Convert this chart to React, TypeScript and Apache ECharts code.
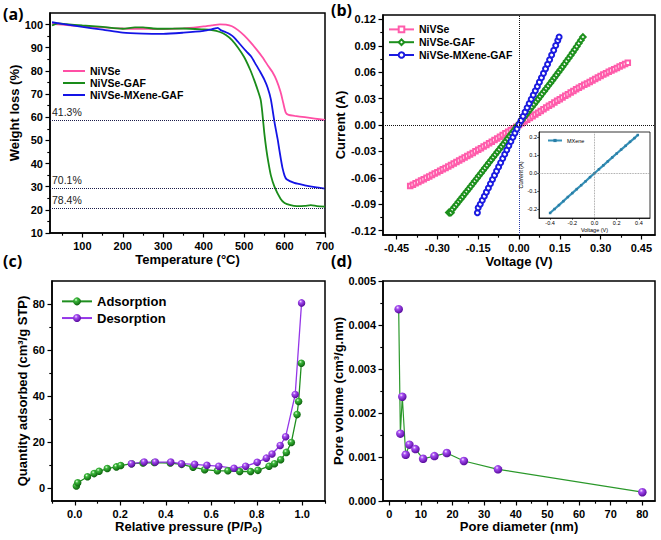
import React, { useEffect, useRef } from 'react';
import * as echarts from 'echarts';

// ---------- (a) TGA ----------
const tgaTempNiVSe = [25, 50, 75, 100, 125, 150, 175, 200, 225, 250, 275, 300, 325, 350, 375, 400, 420, 440, 455, 470, 485, 500, 515, 530, 545, 560, 570, 580, 590, 597, 603, 610, 625, 650, 675, 700];
const tgaWNiVSe = [100.3, 100.0, 99.6, 99.3, 99.0, 98.8, 98.5, 98.3, 98.2, 98.2, 98.1, 98.1, 98.2, 98.4, 98.7, 99.2, 99.7, 100.1, 100.0, 99.3, 97.6, 95.3, 92.5, 89.4, 86.0, 82.0, 79.5, 76.0, 71.0, 66.0, 62.0, 61.0, 60.6, 60.0, 59.4, 58.8];
const tgaTempGAF = [25, 40, 60, 100, 150, 200, 230, 250, 275, 300, 350, 400, 420, 440, 455, 470, 485, 500, 515, 525, 535, 541, 545, 550, 555, 560, 566, 575, 590, 600, 615, 630, 650, 665, 680, 700];
const tgaWGAF = [99.6, 100.5, 100.2, 99.6, 99.0, 98.2, 98.8, 98.8, 98.3, 98.2, 98.3, 97.9, 97.6, 96.8, 95.5, 93.3, 90.0, 86.0, 80.5, 76.0, 71.0, 67.5, 62.0, 53.0, 46.0, 40.5, 35.0, 30.0, 24.8, 23.0, 22.0, 21.6, 21.7, 22.0, 21.6, 21.4];
const tgaTempMX = [25, 50, 100, 150, 200, 250, 300, 350, 400, 425, 435, 442, 455, 465, 475, 490, 505, 517, 530, 540, 550, 558, 566, 575, 583, 587, 591, 595, 600, 605, 624, 650, 675, 700];
const tgaWMX = [101.0, 100.3, 99.0, 97.8, 96.5, 96.1, 96.0, 96.5, 97.3, 98.2, 98.6, 97.6, 96.7, 95.8, 94.5, 91.5, 88.5, 86.3, 82.5, 79.5, 76.2, 72.8, 67.8, 58.0, 50.4, 46.0, 41.8, 38.0, 34.8, 33.2, 31.6, 30.6, 29.8, 29.2];
const tgaRefLevels = [58.8, 29.5, 20.9];
const tgaRefLabels = ['41.3%', '70.1%', '78.4%'];
const tgaXTicks = [100, 200, 300, 400, 500, 600, 700];
const tgaXMinor = [50, 150, 250, 350, 450, 550, 650];
const tgaYTicks = [10, 20, 30, 40, 50, 60, 70, 80, 90, 100];
const tgaYMinor = [15, 25, 35, 45, 55, 65, 75, 85, 95];

// ---------- (b) I-V ----------
const ivVNiVSe = [-0.40, -0.39, -0.38, -0.37, -0.36, -0.35, -0.34, -0.33, -0.32, -0.31, -0.30, -0.29, -0.28, -0.27, -0.26, -0.25, -0.24, -0.23, -0.22, -0.21, -0.20, -0.19, -0.18, -0.17, -0.16, -0.15, -0.14, -0.13, -0.12, -0.11, -0.10, -0.09, -0.08, -0.07, -0.06, -0.05, -0.04, -0.03, -0.02, -0.01, 0, 0.01, 0.02, 0.03, 0.04, 0.05, 0.06, 0.07, 0.08, 0.09, 0.10, 0.11, 0.12, 0.13, 0.14, 0.15, 0.16, 0.17, 0.18, 0.19, 0.20, 0.21, 0.22, 0.23, 0.24, 0.25, 0.26, 0.27, 0.28, 0.29, 0.30, 0.31, 0.32, 0.33, 0.34, 0.35, 0.36, 0.37, 0.38, 0.39, 0.40];
const ivINiVSe = [-0.0693, -0.0678, -0.0662, -0.0647, -0.0631, -0.0616, -0.0600, -0.0584, -0.0568, -0.0552, -0.0536, -0.0520, -0.0504, -0.0488, -0.0471, -0.0455, -0.0438, -0.0421, -0.0404, -0.0387, -0.0370, -0.0353, -0.0335, -0.0317, -0.0299, -0.0281, -0.0263, -0.0245, -0.0226, -0.0208, -0.0189, -0.0171, -0.0152, -0.0133, -0.0114, -0.0095, -0.0076, -0.0057, -0.0038, -0.0019, 0.0, 0.0020, 0.0040, 0.0060, 0.0080, 0.0100, 0.0120, 0.0140, 0.0159, 0.0179, 0.0198, 0.0218, 0.0237, 0.0256, 0.0275, 0.0294, 0.0313, 0.0332, 0.0350, 0.0369, 0.0387, 0.0405, 0.0422, 0.0439, 0.0456, 0.0473, 0.0490, 0.0507, 0.0524, 0.0541, 0.0557, 0.0573, 0.0588, 0.0604, 0.0619, 0.0634, 0.0649, 0.0664, 0.0679, 0.0694, 0.0708];
const ivVGAF = [-0.258, -0.254, -0.250, -0.245, -0.2375, -0.230, -0.2225, -0.215, -0.2075, -0.200, -0.1925, -0.185, -0.1775, -0.170, -0.1625, -0.155, -0.1475, -0.140, -0.1325, -0.125, -0.1175, -0.110, -0.1025, -0.095, -0.0875, -0.080, -0.0725, -0.065, -0.0575, -0.050, -0.0425, -0.035, -0.0275, -0.020, -0.0125, -0.005, 0.0025, 0.010, 0.0175, 0.025, 0.0325, 0.040, 0.0475, 0.055, 0.0625, 0.070, 0.0775, 0.085, 0.0925, 0.100, 0.1075, 0.115, 0.1225, 0.130, 0.1375, 0.145, 0.1525, 0.160, 0.1675, 0.175, 0.1825, 0.190, 0.1975, 0.205, 0.2125, 0.220, 0.2275, 0.235];
const ivIGAF = [-0.0994, -0.0998, -0.0996, -0.0960, -0.0931, -0.0902, -0.0873, -0.0844, -0.0815, -0.0785, -0.0756, -0.0726, -0.0697, -0.0667, -0.0637, -0.0607, -0.0577, -0.0547, -0.0517, -0.0487, -0.0457, -0.0427, -0.0397, -0.0367, -0.0337, -0.0307, -0.0277, -0.0247, -0.0217, -0.0187, -0.0157, -0.0127, -0.0097, -0.0067, -0.0037, -0.0006, 0.0024, 0.0054, 0.0084, 0.0114, 0.0144, 0.0174, 0.0204, 0.0234, 0.0264, 0.0294, 0.0324, 0.0354, 0.0384, 0.0414, 0.0445, 0.0475, 0.0506, 0.0537, 0.0568, 0.0599, 0.0630, 0.0662, 0.0694, 0.0726, 0.0758, 0.0791, 0.0824, 0.0858, 0.0893, 0.0928, 0.0964, 0.1000];
const ivVMX = [-0.153, -0.150, -0.1425, -0.135, -0.1275, -0.120, -0.1125, -0.105, -0.0975, -0.090, -0.0825, -0.075, -0.0675, -0.060, -0.0525, -0.045, -0.0375, -0.030, -0.0225, -0.015, -0.0075, 0, 0.0075, 0.015, 0.0225, 0.030, 0.0375, 0.045, 0.0525, 0.060, 0.0675, 0.075, 0.0825, 0.090, 0.0975, 0.105, 0.1125, 0.120, 0.1275, 0.135, 0.1425, 0.1475];
const ivIMX = [-0.0997, -0.0940, -0.0900, -0.0856, -0.0810, -0.0763, -0.0716, -0.0668, -0.0620, -0.0572, -0.0524, -0.0476, -0.0428, -0.0380, -0.0332, -0.0284, -0.0236, -0.0188, -0.0140, -0.0092, -0.0044, 0.0004, 0.0052, 0.0100, 0.0148, 0.0196, 0.0244, 0.0292, 0.0340, 0.0389, 0.0438, 0.0487, 0.0537, 0.0587, 0.0638, 0.0690, 0.0742, 0.0795, 0.0849, 0.0904, 0.0960, 0.1000];
const ivXTicks = [-0.45, -0.3, -0.15, 0, 0.15, 0.3, 0.45];
const ivXMinor = [-0.375, -0.225, -0.075, 0.075, 0.225, 0.375];
const ivYTicks = [-0.12, -0.09, -0.06, -0.03, 0, 0.03, 0.06, 0.09, 0.12];
const ivYMinor = [-0.105, -0.075, -0.045, -0.015, 0.015, 0.045, 0.075, 0.105];

// inset MXene
const mxV = [-0.40, -0.36, -0.32, -0.28, -0.24, -0.20, -0.16, -0.12, -0.08, -0.04, 0.00, 0.04, 0.08, 0.12, 0.16, 0.20, 0.24, 0.28, 0.32, 0.36, 0.39];
const mxI = [-0.222, -0.200, -0.178, -0.156, -0.133, -0.111, -0.089, -0.067, -0.045, -0.022, 0.000, 0.022, 0.044, 0.066, 0.088, 0.110, 0.132, 0.153, 0.175, 0.196, 0.213];
const mxXTicks = [-0.4, -0.2, 0, 0.2, 0.4];
const mxYTicks = [-0.2, -0.1, 0, 0.1, 0.2];

// ---------- (c) BET isotherm ----------
const adsP = [0.007, 0.013, 0.056, 0.085, 0.107, 0.143, 0.183, 0.202, 0.25, 0.30, 0.35, 0.42, 0.47, 0.52, 0.571, 0.627, 0.673, 0.725, 0.773, 0.805, 0.854, 0.878, 0.905, 0.93, 0.952, 0.977, 0.984, 0.996];
const adsQ = [1.0, 2.4, 5.0, 6.4, 7.4, 8.6, 9.3, 9.9, 10.7, 11.0, 11.2, 11.0, 10.4, 9.2, 8.1, 7.6, 7.6, 7.3, 7.3, 7.8, 9.6, 10.7, 12.4, 15.6, 19.9, 32.0, 37.7, 54.3];
const desP = [0.997, 0.969, 0.927, 0.903, 0.867, 0.842, 0.802, 0.751, 0.70, 0.633, 0.581, 0.527, 0.469, 0.422, 0.354, 0.305, 0.249];
const desQ = [80.5, 40.7, 22.4, 18.6, 14.9, 13.1, 11.3, 9.6, 8.7, 9.6, 10.0, 10.4, 10.7, 11.4, 11.4, 11.4, 10.7];
const betXTicks = [0, 0.2, 0.4, 0.6, 0.8, 1.0];
const betXMinor = [-0.1, 0.1, 0.3, 0.5, 0.7, 0.9, 1.1];
const betYTicks = [0, 20, 40, 60, 80];
const betYMinor = [10, 30, 50, 70];

// ---------- (d) pore size distribution ----------
const poreD = [2.96, 3.49, 4.1, 5.18, 6.34, 8.25, 10.68, 14.27, 18.18, 23.57, 34.36, 80.0];
const poreV = [0.00436, 0.00153, 0.00237, 0.00105, 0.00128, 0.00118, 0.00096, 0.00102, 0.00109, 0.00091, 0.00072, 0.00020];
const psdXTicks = [0, 10, 20, 30, 40, 50, 60, 70, 80];
const psdXMinor = [5, 15, 25, 35, 45, 55, 65, 75];
const psdYTicks = [0, 0.001, 0.002, 0.003, 0.004, 0.005];
const psdYMinor = [0.0005, 0.0015, 0.0025, 0.0035, 0.0045];

const FONT = '"Liberation Sans", Arial, sans-serif';
const zip = (a: number[], b: number[]) => a.map((v, i) => [v, b[i]]);

type AxOpt = {
  grid: number; min: number; max: number; majors: number[]; minors?: number[]; dec: number;
  name: string; nameGap: number; fs?: number; nfs?: number; tickLen?: number; margin?: number;
  lineW?: number; namePad?: number[]; bold?: boolean;
};

function makeAxes(dim: 'x' | 'y', o: AxOpt) {
  const fs = o.fs ?? 11;
  const nfs = o.nfs ?? 13;
  const tl = o.tickLen ?? 4.5;
  const lw = o.lineW ?? 1.5;
  const weight = o.bold === false ? 'normal' : 'bold';
  const pos = dim === 'x' ? 'bottom' : 'left';
  const main: any = {
    type: 'value', gridIndex: o.grid, min: o.min, max: o.max, position: pos,
    name: o.name, nameLocation: 'middle', nameGap: o.nameGap,
    nameTextStyle: { fontFamily: FONT, fontWeight: weight, fontSize: nfs, color: '#000', padding: o.namePad ?? 0 },
    axisLine: { show: true, onZero: false, lineStyle: { color: '#000', width: lw } },
    axisTick: { show: true, inside: false, length: tl, customValues: o.majors, lineStyle: { color: '#000', width: lw * 0.8 } },
    axisLabel: {
      show: true, customValues: o.majors, formatter: (v: number) => Number(v).toFixed(o.dec),
      fontFamily: FONT, fontWeight: weight, fontSize: fs, color: '#000', margin: o.margin ?? 7,
    },
    splitLine: { show: false },
  };
  const out = [main];
  if (o.minors) {
    out.push({
      type: 'value', gridIndex: o.grid, min: o.min, max: o.max, position: pos,
      axisLine: { show: false, onZero: false },
      axisTick: { show: true, inside: false, length: tl * 0.6, customValues: o.minors, lineStyle: { color: '#000', width: lw * 0.75 } },
      axisLabel: { show: false },
      splitLine: { show: false },
    });
  }
  return out;
}

function ball(hi: string, mid: string, dark: string) {
  return new echarts.graphic.RadialGradient(0.38, 0.32, 0.7, [
    { offset: 0, color: hi },
    { offset: 0.28, color: mid },
    { offset: 1, color: dark },
  ]);
}

const PINK_A = '#ff4fa5';
const GREEN_A = '#1a8c1a';
const BLUE_A = '#1414e6';
const PINK_B = '#ff5cab';
const GREEN_B = '#1d901d';
const BLUE_B = '#1b1be0';
const TEAL = '#3591b8';

export default function App() {
  const ref = useRef<HTMLDivElement>(null);
  useEffect(() => {
    if (!ref.current) return;
    const chart = echarts.init(ref.current, undefined, { renderer: 'svg' });

    const xAxis = [
      ...makeAxes('x', { grid: 0, min: 20, max: 700, majors: tgaXTicks, minors: tgaXMinor, dec: 0, name: 'Temperature (°C)', nameGap: 20 }),
      ...makeAxes('x', { grid: 1, min: -0.5, max: 0.5, majors: ivXTicks, minors: ivXMinor, dec: 2, name: 'Voltage (V)', nameGap: 20 }),
      ...makeAxes('x', { grid: 2, min: -0.1, max: 1.1, majors: betXTicks, minors: betXMinor, dec: 1, name: 'Relative pressure (P/Pₒ)', nameGap: 19 }),
      ...makeAxes('x', { grid: 3, min: -2, max: 84, majors: psdXTicks, minors: psdXMinor, dec: 0, name: 'Pore diameter (nm)', nameGap: 19 }),
      ...makeAxes('x', { grid: 4, min: -0.5, max: 0.5, majors: mxXTicks, dec: 1, name: 'Voltage (V)', nameGap: 6, fs: 5.5, nfs: 5.5, tickLen: 1.8, margin: 2, lineW: 0.8, bold: false }),
    ];
    const yAxis = [
      ...makeAxes('y', { grid: 0, min: 10, max: 105, majors: tgaYTicks, minors: tgaYMinor, dec: 0, name: 'Weight loss (%)', nameGap: 22, namePad: [0, 0, 0, 20] }),
      ...makeAxes('y', { grid: 1, min: -0.125, max: 0.125, majors: ivYTicks, minors: ivYMinor, dec: 2, name: 'Current (A)', nameGap: 35 }),
      ...makeAxes('y', { grid: 2, min: -5.5, max: 90, majors: betYTicks, minors: betYMinor, dec: 0, name: 'Quantity adsorbed (cm³/g STP)', nameGap: 23 }),
      ...makeAxes('y', { grid: 3, min: 0, max: 0.005, majors: psdYTicks, minors: psdYMinor, dec: 3, name: 'Pore volume (cm³/g.nm)', nameGap: 37 }),
      ...makeAxes('y', { grid: 4, min: -0.25, max: 0.23, majors: mxYTicks, dec: 1, name: 'Current (A)', nameGap: 15, fs: 5.5, nfs: 5.5, tickLen: 1.8, margin: 2, lineW: 0.8, bold: false }),
    ];

    const greenBall = ball('#e6ffe0', '#3cb83c', '#0a5f0a');
    const purpleBall = ball('#f6e6ff', '#a64cf2', '#55089a');

    const dotted = (color: string) => ({ type: 'dotted' as const, color, width: 1 });

    const series: any[] = [
      // (a)
      {
        name: 'a:NiVSe', type: 'line', xAxisIndex: 0, yAxisIndex: 0, data: zip(tgaTempNiVSe, tgaWNiVSe),
        symbol: 'none', smooth: 0.25, lineStyle: { color: PINK_A, width: 1.8 }, itemStyle: { color: PINK_A },
        markLine: {
          silent: true, symbol: ['none', 'none'], animation: false,
          lineStyle: dotted('#1c1c4a'),
          label: { show: true, position: 'insideStartTop', formatter: '{b}', fontFamily: FONT, fontSize: 10.5, color: '#222', distance: 2 },
          data: tgaRefLevels.map((y, i) => ({ yAxis: y, name: tgaRefLabels[i] })),
        },
        z: 3,
      },
      {
        name: 'a:NiVSe-GAF', type: 'line', xAxisIndex: 0, yAxisIndex: 0, data: zip(tgaTempGAF, tgaWGAF),
        symbol: 'none', smooth: 0.25, lineStyle: { color: GREEN_A, width: 1.8 }, itemStyle: { color: GREEN_A }, z: 3,
      },
      {
        name: 'a:NiVSe-MXene-GAF', type: 'line', xAxisIndex: 0, yAxisIndex: 0, data: zip(tgaTempMX, tgaWMX),
        symbol: 'none', smooth: 0.25, lineStyle: { color: BLUE_A, width: 1.8 }, itemStyle: { color: BLUE_A }, z: 4,
      },
      // (b)
      {
        name: 'b:NiVSe', type: 'line', xAxisIndex: 2, yAxisIndex: 2, data: zip(ivVNiVSe, ivINiVSe),
        symbol: 'emptyRect', symbolSize: 4.5, lineStyle: { color: PINK_B, width: 1 }, itemStyle: { color: PINK_B, borderWidth: 1.1 },
        markLine: {
          silent: true, symbol: ['none', 'none'], animation: false,
          label: { show: false },
          data: [
            [{ coord: [0, 0], lineStyle: dotted('#111') }, { coord: [0, 0.125] }],
            [{ coord: [0, -0.125], lineStyle: dotted('#2a3aa8') }, { coord: [0, 0] }],
            { yAxis: 0, lineStyle: dotted('#111') },
          ],
        },
      },
      {
        name: 'b:NiVSe-GAF', type: 'line', xAxisIndex: 2, yAxisIndex: 2, data: zip(ivVGAF, ivIGAF),
        symbol: 'emptyDiamond', symbolSize: 5.5, lineStyle: { color: GREEN_B, width: 1 }, itemStyle: { color: GREEN_B, borderWidth: 1.1 },
      },
      {
        name: 'b:NiVSe-MXene-GAF', type: 'line', xAxisIndex: 2, yAxisIndex: 2, data: zip(ivVMX, ivIMX),
        symbol: 'emptyCircle', symbolSize: 5, lineStyle: { color: BLUE_B, width: 1 }, itemStyle: { color: BLUE_B, borderWidth: 1.1 },
      },
      // inset
      {
        name: 'i:MXene', type: 'line', xAxisIndex: 8, yAxisIndex: 8, data: zip(mxV, mxI),
        symbol: 'rect', symbolSize: 2.5, lineStyle: { color: TEAL, width: 2.2 }, itemStyle: { color: '#2a7ea6' },
        markLine: {
          silent: true, symbol: ['none', 'none'], animation: false, label: { show: false },
          lineStyle: { type: 'dotted', color: '#888', width: 0.8 },
          data: [{ xAxis: 0 }, { yAxis: 0 }],
        },
      },
      // (c)
      {
        name: 'c:Adsorption', type: 'line', xAxisIndex: 4, yAxisIndex: 4, data: zip(adsP, adsQ),
        symbol: 'circle', symbolSize: 7.5, lineStyle: { color: '#1f8f1f', width: 1.3 }, itemStyle: { color: greenBall },
      },
      {
        name: 'c:Desorption', type: 'line', xAxisIndex: 4, yAxisIndex: 4, data: zip(desP, desQ),
        symbol: 'circle', symbolSize: 7.5, lineStyle: { color: '#9436e8', width: 1.3 }, itemStyle: { color: purpleBall },
      },
      // (d)
      {
        name: 'd:PSD', type: 'line', xAxisIndex: 6, yAxisIndex: 6, data: zip(poreD, poreV),
        symbol: 'circle', symbolSize: 8.5, lineStyle: { color: '#2a982a', width: 1.2 }, itemStyle: { color: purpleBall },
      },
    ];

    const legendText = (fs: number, lh: number) => ({ fontFamily: FONT, fontWeight: 'bold' as const, fontSize: fs, color: '#000', lineHeight: lh });
    const strip = (n: string) => n.slice(2);

    const option: any = {
      animation: false,
      backgroundColor: '#fff',
      grid: [
        { left: 50, top: 13, width: 275, height: 220, show: true, borderColor: '#000', borderWidth: 1.5 },
        { left: 383, top: 15, width: 272, height: 220, show: true, borderColor: '#000', borderWidth: 1.5 },
        { left: 52, top: 281, width: 273, height: 220, show: true, borderColor: '#000', borderWidth: 1.5 },
        { left: 383, top: 281, width: 272, height: 220, show: true, borderColor: '#000', borderWidth: 1.5 },
        { left: 539, top: 132, width: 111, height: 86, show: true, borderColor: '#000', borderWidth: 0.8, backgroundColor: '#fff' },
      ],
      xAxis,
      yAxis,
      legend: [
        {
          data: ['a:NiVSe', 'a:NiVSe-GAF', 'a:NiVSe-MXene-GAF'], formatter: strip, orient: 'vertical',
          left: 58, top: 60, itemWidth: 22, itemHeight: 2, icon: 'rect', itemGap: 0, selectedMode: false,
          textStyle: legendText(10.5, 12),
        },
        {
          data: ['b:NiVSe', 'b:NiVSe-GAF', 'b:NiVSe-MXene-GAF'], formatter: strip, orient: 'vertical',
          left: 383, top: 18, itemWidth: 25, itemHeight: 7, itemGap: 0, selectedMode: false,
          textStyle: legendText(10.5, 12.8),
        },
        {
          data: ['c:Adsorption', 'c:Desorption'], formatter: strip, orient: 'vertical',
          left: 56, top: 288, itemWidth: 30, itemHeight: 10, itemGap: 0, selectedMode: false,
          textStyle: legendText(13, 16.7),
        },
        {
          data: ['i:MXene'], formatter: strip, orient: 'vertical',
          left: 542, top: 132, itemWidth: 14, itemHeight: 4, itemGap: 0, selectedMode: false,
          textStyle: { fontFamily: FONT, fontSize: 5.5, color: '#000', lineHeight: 7 },
        },
      ],
      graphic: [
        { type: 'text', left: 3, top: 6, style: { text: '(a)', font: 'bold 16px "Open Sans", sans-serif', fill: '#000' } },
        { type: 'text', left: 331, top: 2, style: { text: '(b)', font: 'bold 16px "Open Sans", sans-serif', fill: '#000' } },
        { type: 'text', left: 3, top: 253, style: { text: '(c)', font: 'bold 16px "Open Sans", sans-serif', fill: '#000' } },
        { type: 'text', left: 331, top: 253, style: { text: '(d)', font: 'bold 16px "Open Sans", sans-serif', fill: '#000' } },
      ],
      series,
    };

    chart.setOption(option);
    return () => chart.dispose();
  }, []);

  return <div ref={ref} style={{ position: 'fixed', left: 0, top: 0, width: 661, height: 540 }} />;
}
